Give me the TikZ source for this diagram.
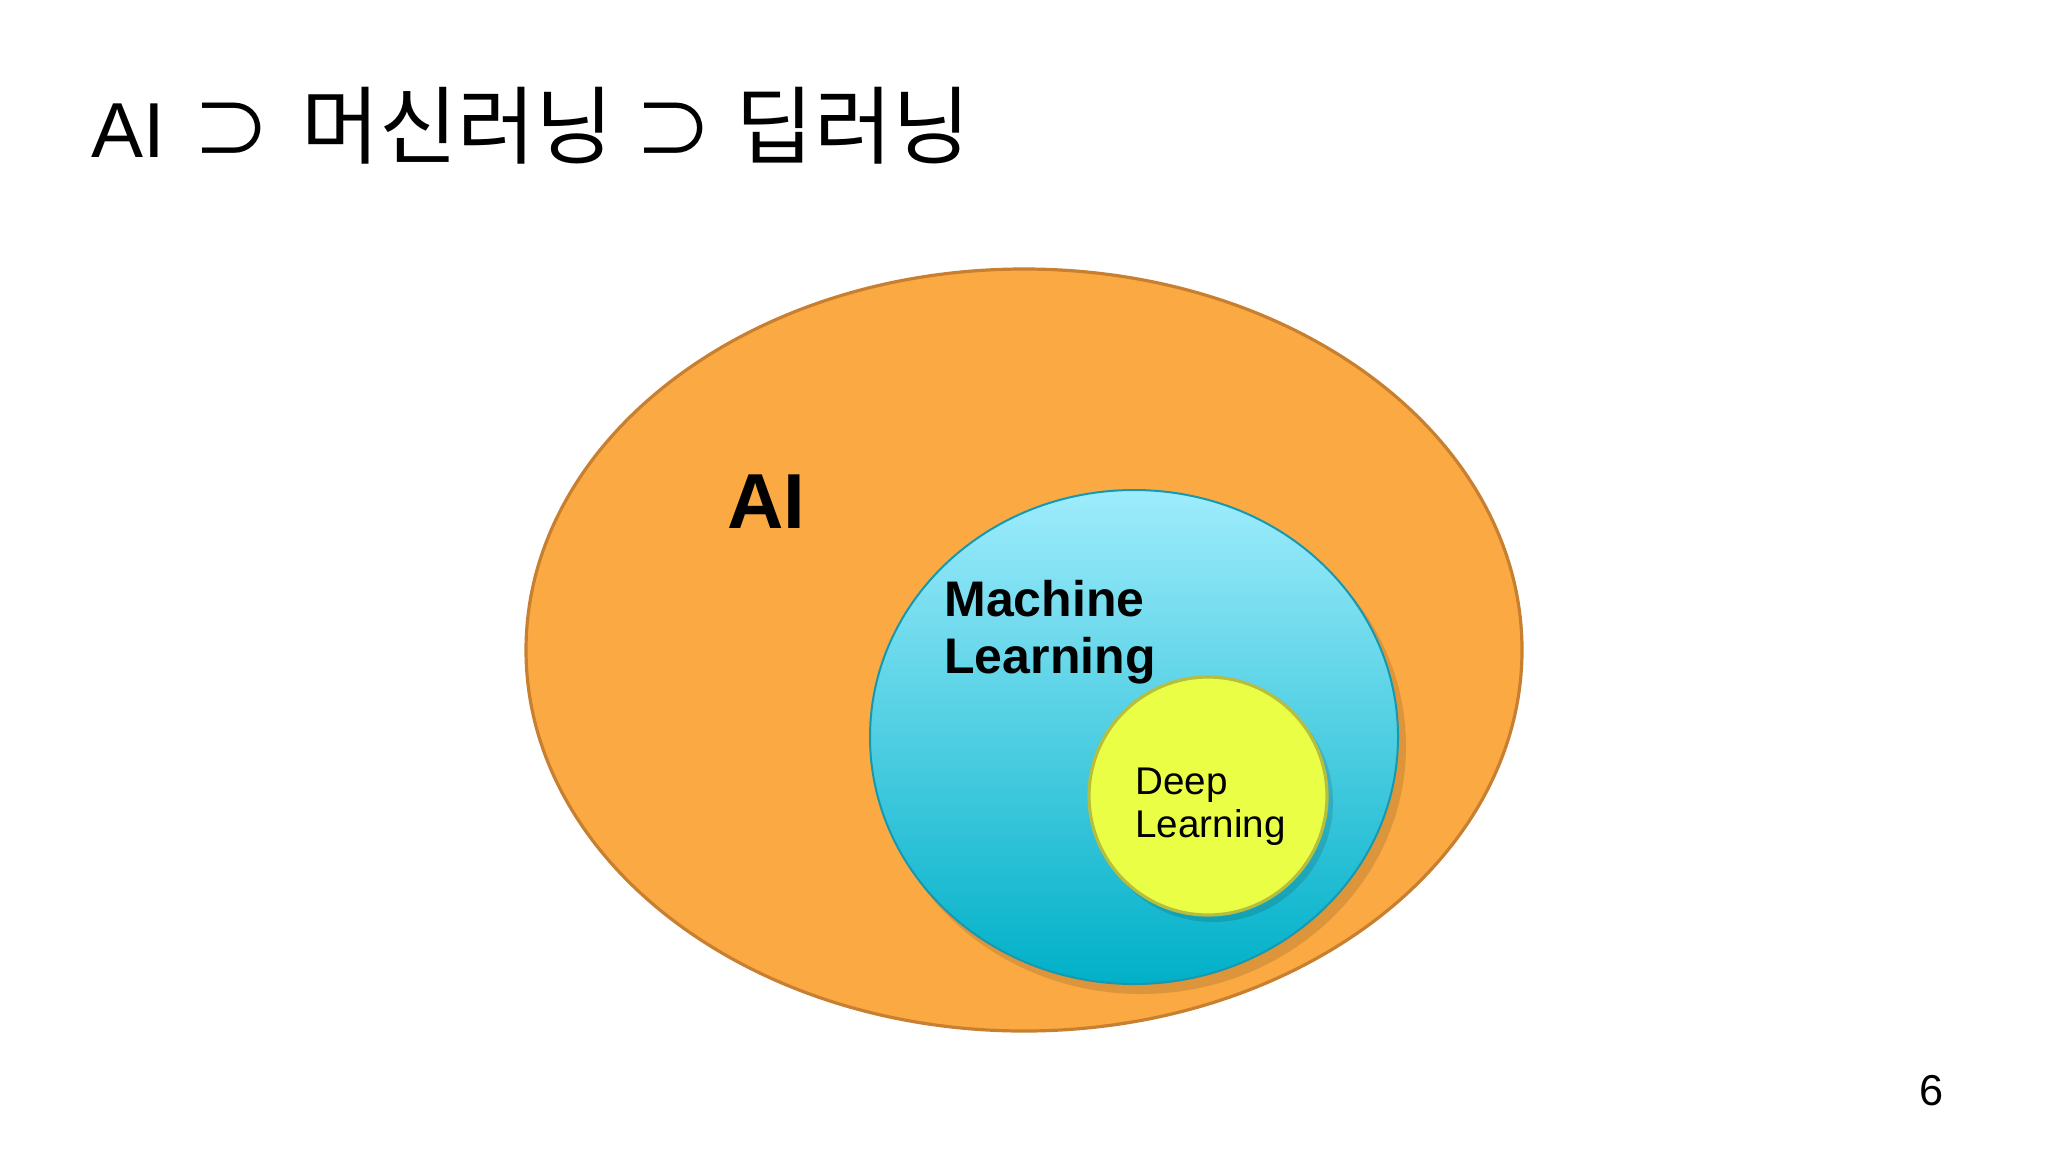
\documentclass[tikz,border=0pt]{standalone}
\usepackage{fontspec}
\setmainfont{Liberation Sans}
\newfontfamily\kofont{Noto Sans CJK KR}

\definecolor{aifill}{RGB}{251,170,67}
\definecolor{aiedge}{RGB}{200,128,48}
\definecolor{mltop}{RGB}{158,236,252}
\definecolor{mlbot}{RGB}{0,176,200}
\definecolor{mledge}{RGB}{22,152,176}
\definecolor{dlfill}{RGB}{234,254,70}
\definecolor{dledge}{RGB}{182,190,62}

\newcommand{\kobig}[1]{{\fontsize{42.5}{46}\selectfont #1}}

\begin{document}
\begin{tikzpicture}[x=0.5pt,y=-0.5pt,
    label/.style={inner sep=0pt, align=left},
    shadowed/.style={fill=black, opacity=0.12}]
        \useasboundingbox[fill=white] (0,0) rectangle (2048,1152);
        % Title
        \node[label, anchor=base west, font=\fontsize{39}{46}\selectfont] (title) at (91,157)
            {AI\hspace{3pt} {\kofont ⊃\hspace{6.5pt} \kobig{머신러닝}\hspace{1.5pt} ⊃\hspace{3pt} \kobig{딥러닝}}};
        % AI
        \draw[aiedge, line width=1.6pt, fill=aifill] (1024,650) ellipse [x radius=498, y radius=381];
        \node[label, anchor=base west, font=\fontsize{39}{46}\selectfont\bfseries] (ai) at (727,528) {AI};
        % Machine Learning
        \fill[shadowed] (1141,746) ellipse [x radius=265, y radius=248];
        \shade[top color=mltop, bottom color=mlbot] (1134,737) ellipse [x radius=264, y radius=247];
        \draw[mledge, line width=1pt] (1134,737) ellipse [x radius=264, y radius=247];
        \node[label, anchor=base west, font=\fontsize{25}{28.5}\selectfont\bfseries] (ml) at (944,673)
            {Machine\\Learning};
        % Deep Learning
        \fill[shadowed] (1213,802) circle [radius=120];
        \draw[dledge, line width=1.6pt, fill=dlfill] (1208,796) circle [radius=119];
        \node[label, anchor=base west, font=\fontsize{19.3}{21.5}\selectfont] (dl) at (1135,837)
            {Deep\\Learning};
        % Page number
        \node[label, anchor=base west, font=\fontsize{21.6}{26}\selectfont] (page) at (1919,1105) {6};
    \end{tikzpicture}
\end{document}
